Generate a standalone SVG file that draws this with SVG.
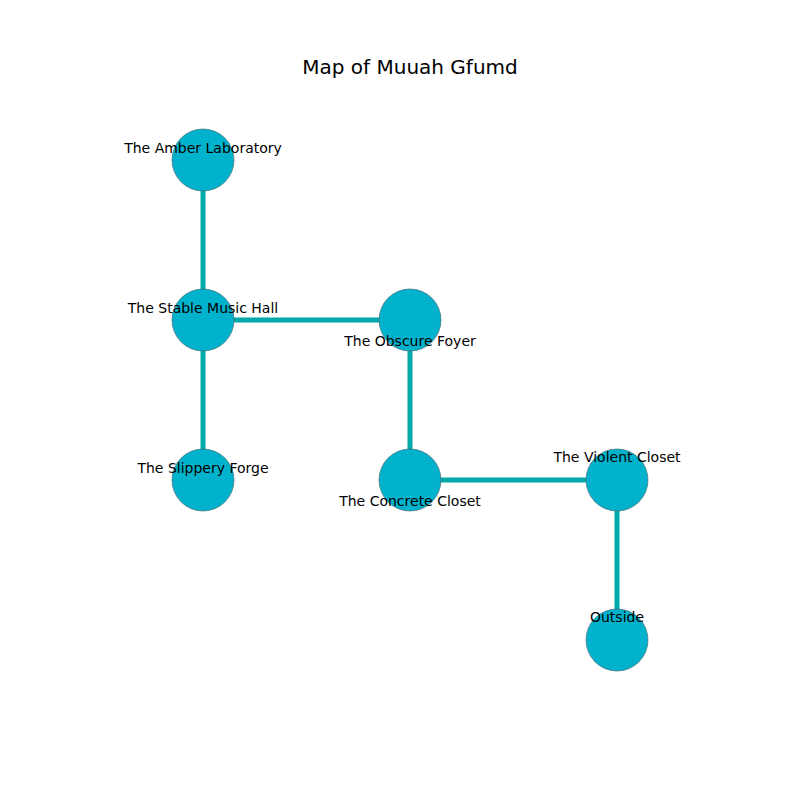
<svg xmlns="http://www.w3.org/2000/svg" width="800" height="800" viewBox="0 0 800 800">
<style>
.node{fill:#00b2cc;stroke:#4a6f76;stroke-width:0.7}
.edge{stroke:#00a9a9;stroke-width:5;fill:none}
.lbl{font-family:"DejaVu Sans",sans-serif;font-size:14px;fill:#000;text-anchor:middle}
.title{font-family:"DejaVu Sans",sans-serif;font-size:20px;fill:#000;text-anchor:middle}
</style>
<rect width="800" height="800" fill="#fff"/>
<text class="title" x="410" y="74">Map of Muuah Gfumd</text>
<g id="connectors">
<line class="edge" x1="203" y1="160" x2="203" y2="320"/>
<line class="edge" x1="203" y1="320" x2="203" y2="480"/>
<line class="edge" x1="203" y1="320" x2="410" y2="320"/>
<line class="edge" x1="410" y1="320" x2="410" y2="480"/>
<line class="edge" x1="410" y1="480" x2="617" y2="480"/>
<line class="edge" x1="617" y1="480" x2="617" y2="640"/>
</g>
<g id="amber"><circle class="node" cx="203" cy="160" r="31"/><text class="lbl" x="203" y="153">The Amber Laboratory</text></g>
<g id="stable"><circle class="node" cx="203" cy="320" r="31"/><text class="lbl" x="203" y="313">The Stable Music Hall</text></g>
<g id="slippery"><circle class="node" cx="203" cy="480" r="31"/><text class="lbl" x="203" y="473">The Slippery Forge</text></g>
<g id="obscure"><circle class="node" cx="410" cy="320" r="31"/><text class="lbl" x="410" y="346">The Obscure Foyer</text></g>
<g id="concrete"><circle class="node" cx="410" cy="480" r="31"/><text class="lbl" x="410" y="506">The Concrete Closet</text></g>
<g id="violent"><circle class="node" cx="617" cy="480" r="31"/><text class="lbl" x="617" y="462">The Violent Closet</text></g>
<g id="outside"><circle class="node" cx="617" cy="640" r="31"/><text class="lbl" x="617" y="622">Outside</text></g>
</svg>
